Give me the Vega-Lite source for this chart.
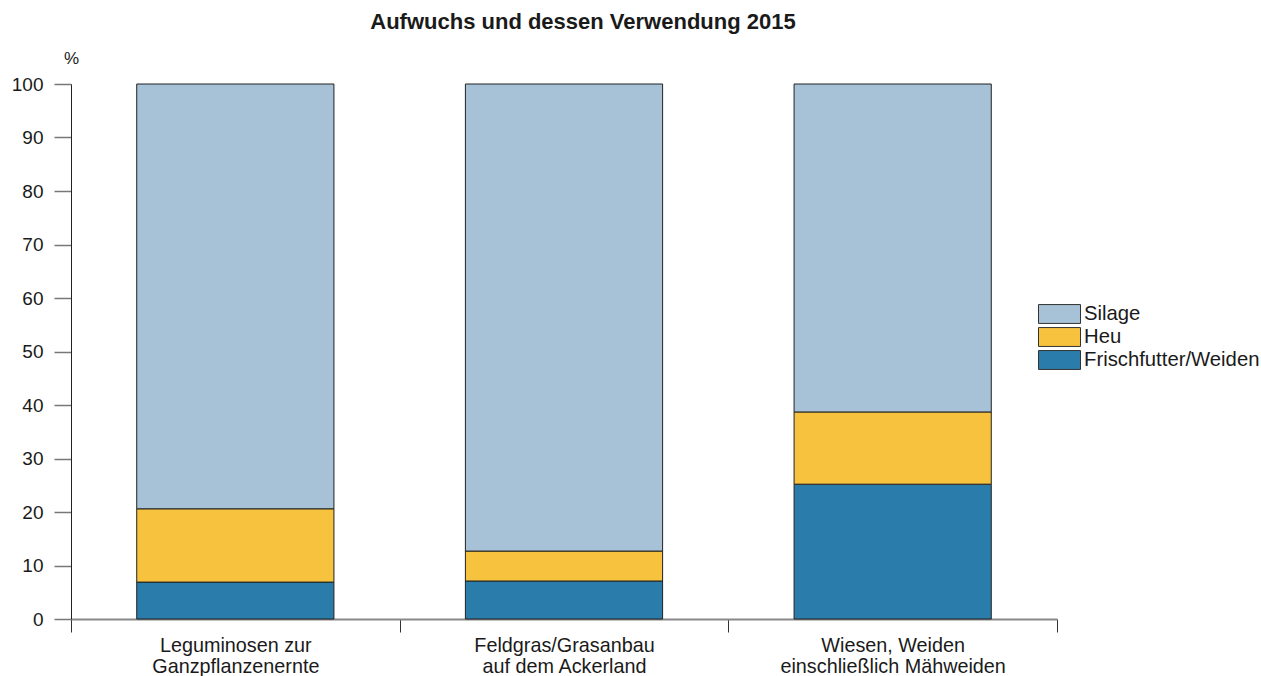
{
  "$schema": "https://vega.github.io/schema/vega-lite/v6.json",
  "width": 986,
  "height": 535,
  "autosize": "none",
  "padding": {"left": 71, "top": 84, "right": 204, "bottom": 57},
  "background": "white",
  "title": {"text": "Aufwuchs und dessen Verwendung 2015", "anchor": "middle", "offset": 15, "dx": 19, "fontSize": 22, "font": "Liberation Sans", "fontWeight": "bold", "color": "#1a1a1a"},
  "data": {"values": [
    {"kultur": "Leguminosen zur|Ganzpflanzenernte", "verwendung": "Frischfutter/Weiden", "k": 1, "anteil": 6.9},
    {"kultur": "Leguminosen zur|Ganzpflanzenernte", "verwendung": "Heu", "k": 2, "anteil": 13.7},
    {"kultur": "Leguminosen zur|Ganzpflanzenernte", "verwendung": "Silage", "k": 3, "anteil": 79.4},
    {"kultur": "Feldgras/Grasanbau|auf dem Ackerland", "verwendung": "Frischfutter/Weiden", "k": 1, "anteil": 7.1},
    {"kultur": "Feldgras/Grasanbau|auf dem Ackerland", "verwendung": "Heu", "k": 2, "anteil": 5.6},
    {"kultur": "Feldgras/Grasanbau|auf dem Ackerland", "verwendung": "Silage", "k": 3, "anteil": 87.3},
    {"kultur": "Wiesen, Weiden|einschließlich Mähweiden", "verwendung": "Frischfutter/Weiden", "k": 1, "anteil": 25.2},
    {"kultur": "Wiesen, Weiden|einschließlich Mähweiden", "verwendung": "Heu", "k": 2, "anteil": 13.5},
    {"kultur": "Wiesen, Weiden|einschließlich Mähweiden", "verwendung": "Silage", "k": 3, "anteil": 61.3}
  ]},
  "mark": {"type": "bar", "width": {"band": 0.6}, "stroke": "#222222", "strokeWidth": 1},
  "encoding": {
    "x": {
      "field": "kultur", "type": "nominal", "sort": null,
      "scale": {"paddingInner": 0, "paddingOuter": 0},
      "axis": {
        "title": null, "labelAngle": 0, "tickBand": "extent",
        "labelExpr": "split(datum.label, '|')",
        "labelFont": "Liberation Sans", "labelFontSize": 19.8, "labelColor": "#1a1a1a",
        "labelPadding": 3, "labelLineHeight": 21, "labelLimit": 400, "labelBaseline": "top",
        "tickSize": 13, "tickColor": "#333333", "tickWidth": 1,
        "domainColor": "#888888", "domainWidth": 2
      }
    },
    "y": {
      "field": "anteil", "type": "quantitative", "stack": "zero",
      "scale": {"domain": [0, 100], "nice": false},
      "axis": {
        "title": "%", "titleAngle": 0, "titleX": 0, "titleY": -26, "titleAlign": "center", "titleBaseline": "middle",
        "titleFont": "Liberation Sans", "titleFontSize": 17, "titleFontWeight": "normal", "titleColor": "#1a1a1a",
        "values": [0, 10, 20, 30, 40, 50, 60, 70, 80, 90, 100],
        "labelFont": "Liberation Sans", "labelFontSize": 19, "labelColor": "#1a1a1a", "labelPadding": 11,
        "tickSize": 17, "tickColor": "#777777", "tickWidth": 1.5,
        "domainColor": "#222222", "domainWidth": 1, "grid": false
      }
    },
    "color": {
      "field": "verwendung", "type": "nominal",
      "scale": {"domain": ["Silage", "Heu", "Frischfutter/Weiden"], "range": ["#a7c1d6", "#f7c33e", "#2a7daa"]},
      "legend": {
        "title": null, "orient": "none", "legendX": 977.5, "legendY": 219,
        "symbolType": "M-2,-0.9H2V0.9H-2Z", "symbolSize": 441, "symbolStrokeColor": "#333333", "symbolStrokeWidth": 1,
        "symbolOpacity": 1, "symbolFillOpacity": 1,
        "labelFont": "Liberation Sans", "labelFontSize": 20.3, "labelColor": "#1a1a1a", "labelOffset": 13.5, "labelLimit": 300,
        "rowPadding": -2
      }
    },
    "order": {"field": "k", "type": "quantitative"}
  },
  "config": {"view": {"stroke": null}}
}
